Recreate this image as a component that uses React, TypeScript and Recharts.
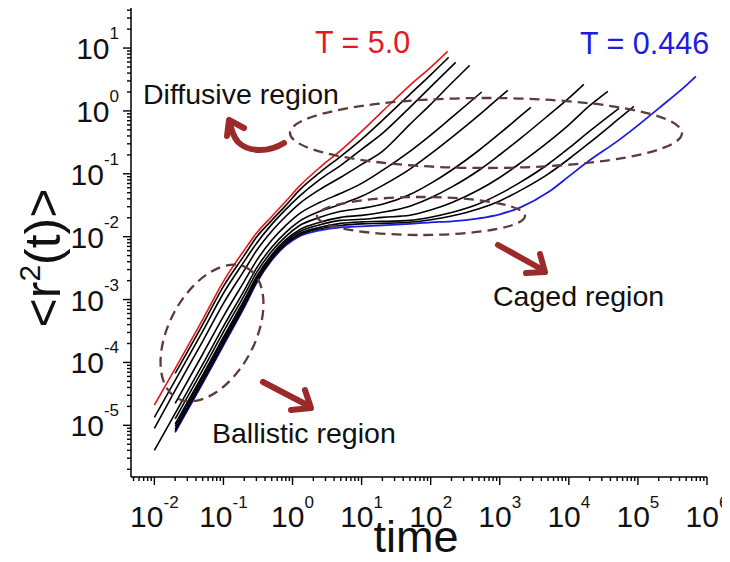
import { LineChart, Line, XAxis, YAxis } from "recharts";

const FONT = "'Liberation Sans', Arial, Helvetica, sans-serif";

// <r^2(t)> curves as [time, msd] pairs, hottest (red, T = 5.0) to coldest (blue, T = 0.446)
const msdT500 = [
  [0.01, 2.1e-5], [0.02, 8.0e-5], [0.05, 4.8e-4], [0.1, 1.95e-3], [0.2, 6.1e-3], [0.3, 1.13e-2],
  [0.5, 2.1e-2], [0.8, 3.65e-2], [1.25, 6.3e-2], [2.5, 0.127], [5, 0.236], [10, 0.473],
  [20, 0.985], [50, 2.55], [100, 4.93], [176, 8.86],
];
const msdBlack1 = [
  [0.02, 6.7e-5], [0.05, 4.0e-4], [0.1, 1.62e-3], [0.2, 5.05e-3], [0.3, 9.8e-3], [0.5, 1.82e-2],
  [0.8, 3.15e-2], [1.25, 5.46e-2], [2.5, 0.1055], [5, 0.19], [10, 0.353], [20, 0.708],
  [50, 1.835], [100, 3.75], [182, 7.11],
];
const msdBlack2 = [
  [0.01, 1.34e-5], [0.02, 5.2e-5], [0.05, 3.12e-4], [0.1, 1.26e-3], [0.2, 4.05e-3], [0.3, 7.8e-3],
  [0.5, 1.57e-2], [0.8, 2.72e-2], [1.25, 4.38e-2], [2.5, 8.17e-2], [5, 0.136], [10, 0.245],
  [20, 0.44], [50, 1.14], [100, 2.41], [230, 5.92],
];
const msdBlack3 = [
  [0.01, 8.95e-6], [0.02, 3.6e-5], [0.05, 2.17e-4], [0.1, 8.7e-4], [0.2, 2.92e-3], [0.3, 5.96e-3],
  [0.5, 1.22e-2], [0.8, 2.11e-2], [1.25, 3.33e-2], [2.5, 5.66e-2], [5, 8.8e-2], [10, 0.141],
  [20, 0.228], [50, 0.612], [100, 1.27], [200, 2.75], [367, 5.31],
];
const msdBlack4 = [
  [0.02, 2.24e-5], [0.05, 1.35e-4], [0.1, 5.4e-4], [0.2, 1.95e-3], [0.3, 4.13e-3], [0.5, 8.75e-3],
  [0.8, 1.51e-2], [1.25, 2.31e-2], [2.5, 3.52e-2], [5, 4.89e-2], [10, 7.05e-2], [20, 0.1135],
  [50, 0.228], [100, 0.414], [200, 0.782], [548, 2.0],
];
const msdBlack5 = [
  [0.01, 4.0e-6], [0.02, 1.55e-5], [0.05, 9.3e-5], [0.1, 3.75e-4], [0.2, 1.4e-3], [0.3, 3.14e-3],
  [0.5, 6.77e-3], [0.8, 1.17e-2], [1.25, 1.75e-2], [2.5, 2.53e-2], [5, 3.27e-2], [10, 4.38e-2],
  [20, 6.49e-2], [50, 0.1186], [100, 0.207], [200, 0.376], [500, 0.857], [1000, 1.66], [1306, 2.12],
];
const msdBlack6 = [
  [0.02, 1.27e-5], [0.05, 7.6e-5], [0.1, 3.07e-4], [0.2, 1.17e-3], [0.3, 2.66e-3], [0.5, 5.85e-3],
  [0.8, 1.01e-2], [1.25, 1.49e-2], [2.5, 2.03e-2], [5, 2.53e-2], [10, 2.83e-2], [20, 3.27e-2],
  [50, 4.67e-2], [100, 7.03e-2], [200, 0.114], [500, 0.237], [1000, 0.438], [2000, 0.832], [2812, 1.14],
];
const msdBlack7 = [
  [0.02, 1.05e-5], [0.05, 6.3e-5], [0.1, 2.54e-4], [0.2, 9.9e-4], [0.3, 2.3e-3], [0.5, 5.18e-3],
  [0.8, 8.97e-3], [1.25, 1.28e-2], [2.5, 1.7e-2], [5, 2.03e-2], [10, 2.18e-2], [20, 2.44e-2],
  [50, 3.05e-2], [100, 4.15e-2], [200, 6.14e-2], [500, 0.114], [1000, 0.201], [2000, 0.366],
  [5000, 0.841], [1e4, 1.6], [16480, 2.65],
];
const msdBlack8 = [
  [0.02, 9.6e-6], [0.05, 5.8e-5], [0.1, 2.33e-4], [0.2, 9.1e-4], [0.3, 2.14e-3], [0.5, 4.87e-3],
  [0.8, 8.43e-3], [1.25, 1.19e-2], [2.5, 1.55e-2], [5, 1.82e-2], [10, 1.89e-2], [20, 2.03e-2],
  [50, 2.19e-2], [100, 2.66e-2], [200, 3.48e-2], [500, 5.58e-2], [1000, 8.75e-2], [2000, 0.149],
  [5000, 0.319], [1e4, 0.601], [2e4, 1.21], [36700, 2.05],
];
const msdBlack9 = [
  [0.02, 8.7e-6], [0.05, 5.23e-5], [0.1, 2.1e-4], [0.2, 8.4e-4], [0.3, 1.99e-3], [0.5, 4.56e-3],
  [0.8, 7.89e-3], [1.25, 1.11e-2], [2.5, 1.41e-2], [5, 1.63e-2], [10, 1.72e-2], [20, 1.75e-2],
  [50, 1.82e-2], [100, 2.04e-2], [200, 2.42e-2], [500, 3.34e-2], [1000, 4.79e-2], [2000, 7.37e-2],
  [5000, 0.142], [1e4, 0.255], [2e4, 0.477], [53100, 1.1],
];
const msdBlack10 = [
  [0.02, 8.2e-6], [0.05, 4.93e-5], [0.1, 1.98e-4], [0.2, 7.9e-4], [0.3, 1.89e-3], [0.5, 4.38e-3],
  [0.8, 7.59e-3], [1.25, 1.06e-2], [2.5, 1.34e-2], [5, 1.51e-2], [10, 1.6e-2], [20, 1.63e-2],
  [50, 1.7e-2], [100, 1.86e-2], [200, 2.13e-2], [500, 2.77e-2], [1000, 3.7e-2], [2000, 5.46e-2],
  [5000, 9.9e-2], [1e4, 0.172], [2e4, 0.313], [5e4, 0.713], [87500, 1.18],
];
const msdT0446 = [
  [0.02, 7.73e-6], [0.05, 4.66e-5], [0.1, 1.87e-4], [0.2, 7.5e-4], [0.3, 1.81e-3], [0.5, 4.21e-3],
  [0.8, 7.28e-3], [1.25, 1.01e-2], [2.5, 1.26e-2], [5, 1.41e-2], [10, 1.46e-2], [20, 1.51e-2],
  [50, 1.6e-2], [100, 1.69e-2], [200, 1.75e-2], [500, 1.96e-2], [1000, 2.27e-2], [2000, 2.93e-2],
  [5000, 5.07e-2], [1e4, 9.1e-2], [2e4, 0.164], [5e4, 0.328], [1e5, 0.59], [2e5, 1.1],
  [5e5, 2.55], [6.9e5, 3.55],
];

const blackCurves = [
  msdBlack1, msdBlack2, msdBlack3, msdBlack4, msdBlack5,
  msdBlack6, msdBlack7, msdBlack8, msdBlack9, msdBlack10,
];

// decade tick labels
const xMajorTicks = [1e-2, 1e-1, 1, 10, 100, 1e3, 1e4, 1e5, 1e6];
const yMajorTicks = [1e-5, 1e-4, 1e-3, 1e-2, 1e-1, 1, 10];

const X_DOMAIN = [0.00459, 1e6];
const Y_DOMAIN = [1.507e-6, 43.35];

// 2..9 x 10^k minor ticks inside the domain
const withMinor = (majors: number[], [lo, hi]: number[]) => {
  const out: number[] = [];
  const first = Math.floor(Math.log10(lo));
  const last = Math.ceil(Math.log10(hi));
  for (let k = first; k <= last; k++) {
    for (let m = 1; m <= 9; m++) {
      const v = m === 1 ? Math.pow(10, k) : m * Math.pow(10, k);
      if (v >= lo && v <= hi) out.push(v);
    }
  }
  majors.forEach((v) => { if (!out.includes(v)) out.push(v); });
  return out.sort((a, b) => a - b);
};

const xTicks = withMinor(xMajorTicks, X_DOMAIN);
const yTicks = withMinor(yMajorTicks, Y_DOMAIN);

const isMajor = (v: number) => {
  const l = Math.log10(v);
  return Math.abs(l - Math.round(l)) < 1e-9;
};

const toPts = (arr: number[][]) => arr.map(([t, r2]) => ({ t, r2 }));

const XTick = (props: any) => {
  const { x, y, payload } = props;
  const major = isMajor(payload.value);
  return (
    <g>
      <line x1={x} x2={x} y1={y} y2={y + (major ? 8 : 4)} stroke="#000" strokeWidth={1.4} />
      {major && (
        <text x={x} y={y + 50} textAnchor="middle" fontSize={30} fontFamily={FONT} fill="#111">
          10<tspan fontSize={17} dy={-19}>{Math.round(Math.log10(payload.value))}</tspan>
        </text>
      )}
    </g>
  );
};

const YTick = (props: any) => {
  const { x, y, payload } = props;
  const major = isMajor(payload.value);
  return (
    <g>
      <line x1={x} x2={x - (major ? 8 : 4)} y1={y} y2={y} stroke="#000" strokeWidth={1.4} />
      {major && (
        <text x={x - 12} y={y + 11} textAnchor="end" fontSize={30} fontFamily={FONT} fill="#111">
          10<tspan fontSize={17} dy={-20}>{Math.round(Math.log10(payload.value))}</tspan>
        </text>
      )}
    </g>
  );
};

const ARROW = "#9c2a2a";
const DASH = "#5e3b3b";

// region outlines, arrows and captions (page coordinates)
const Annotations = () => (
  <svg width={722} height={554} style={{ position: "absolute", left: 0, top: 0, pointerEvents: "none" }}>
    <g transform="translate(-8,-8)" fontFamily={FONT}>
      <ellipse cx={486} cy={133} rx={196} ry={35} fill="none" stroke={DASH} strokeWidth={2.3} strokeDasharray="10 6" />
      <ellipse cx={421} cy={216} rx={104} ry={19} fill="none" stroke={DASH} strokeWidth={2.3} strokeDasharray="10 6" />
      <ellipse cx={212} cy={333} rx={74} ry={43} transform="rotate(-62 212 333)" fill="none" stroke={DASH} strokeWidth={2.3} strokeDasharray="10 6" />

      <path d="M284,143 C268,153 248,152 238,142 C233,136 231,129 230,122" fill="none" stroke={ARROW} strokeWidth={6} strokeLinecap="round" />
      <path d="M244,128 L229,120 L227,136" fill="none" stroke={ARROW} strokeWidth={6} strokeLinecap="round" strokeLinejoin="round" />

      <path d="M498,245 L543,270" fill="none" stroke={ARROW} strokeWidth={6} strokeLinecap="round" />
      <path d="M526,273 L545,272 L540,254" fill="none" stroke={ARROW} strokeWidth={6} strokeLinecap="round" strokeLinejoin="round" />

      <path d="M263,382 L309,406" fill="none" stroke={ARROW} strokeWidth={6} strokeLinecap="round" />
      <path d="M291,410 L311,408 L305,390" fill="none" stroke={ARROW} strokeWidth={6} strokeLinecap="round" strokeLinejoin="round" />

      <text x={315} y={53} fontSize={30.5} fill="#e3191c">T = 5.0</text>
      <text x={580} y={54} fontSize={30.5} fill="#1d1de0">T = 0.446</text>
      <text x={143} y={104} fontSize={28.5} fill="#111">Diffusive region</text>
      <text x={493} y={306} fontSize={28.5} fill="#111">Caged region</text>
      <text x={212} y={443} fontSize={28.5} fill="#111">Ballistic region</text>

      <text x={416} y={552} fontSize={45} textAnchor="middle" fill="#111">time</text>
      <text transform="translate(60,258) rotate(-90)" fontSize={50} textAnchor="middle" fill="#111">
        &lt;r<tspan fontSize={30} dy={-20}>2</tspan><tspan dy={20}>(t)&gt;</tspan>
      </text>
    </g>
  </svg>
);

const App = () => {
  return (
    <div style={{ position: "relative", width: 722, height: 554, background: "#fff" }}>
      <LineChart width={722} height={554} margin={{ top: 0, right: 23, bottom: 0, left: 0 }}>
        <XAxis
          dataKey="t"
          type="number"
          scale="log"
          domain={X_DOMAIN}
          allowDataOverflow
          ticks={xTicks}
          interval={0}
          tick={(p: any) => <XTick {...p} />}
          tickLine={false}
          tickSize={0}
          tickMargin={0}
          height={85}
          axisLine={{ stroke: "#000", strokeWidth: 1.5 }}
        />
        <YAxis
          type="number"
          scale="log"
          domain={Y_DOMAIN}
          allowDataOverflow
          ticks={yTicks}
          interval={0}
          tick={(p: any) => <YTick {...p} />}
          tickLine={false}
          tickSize={0}
          tickMargin={0}
          width={123}
          axisLine={{ stroke: "#000", strokeWidth: 1.5 }}
        />
        <Line data={toPts(msdT0446)} dataKey="r2" type="monotone" stroke="#1d1de0" strokeWidth={1.8} dot={false} isAnimationActive={false} />
        {blackCurves.map((c, i) => (
          <Line key={i} data={toPts(c)} dataKey="r2" type="monotone" stroke="#000" strokeWidth={1.6} dot={false} isAnimationActive={false} />
        ))}
        <Line data={toPts(msdT500)} dataKey="r2" type="monotone" stroke="#e3191c" strokeWidth={1.6} dot={false} isAnimationActive={false} />
      </LineChart>
      <Annotations />
    </div>
  );
};

export default App;
